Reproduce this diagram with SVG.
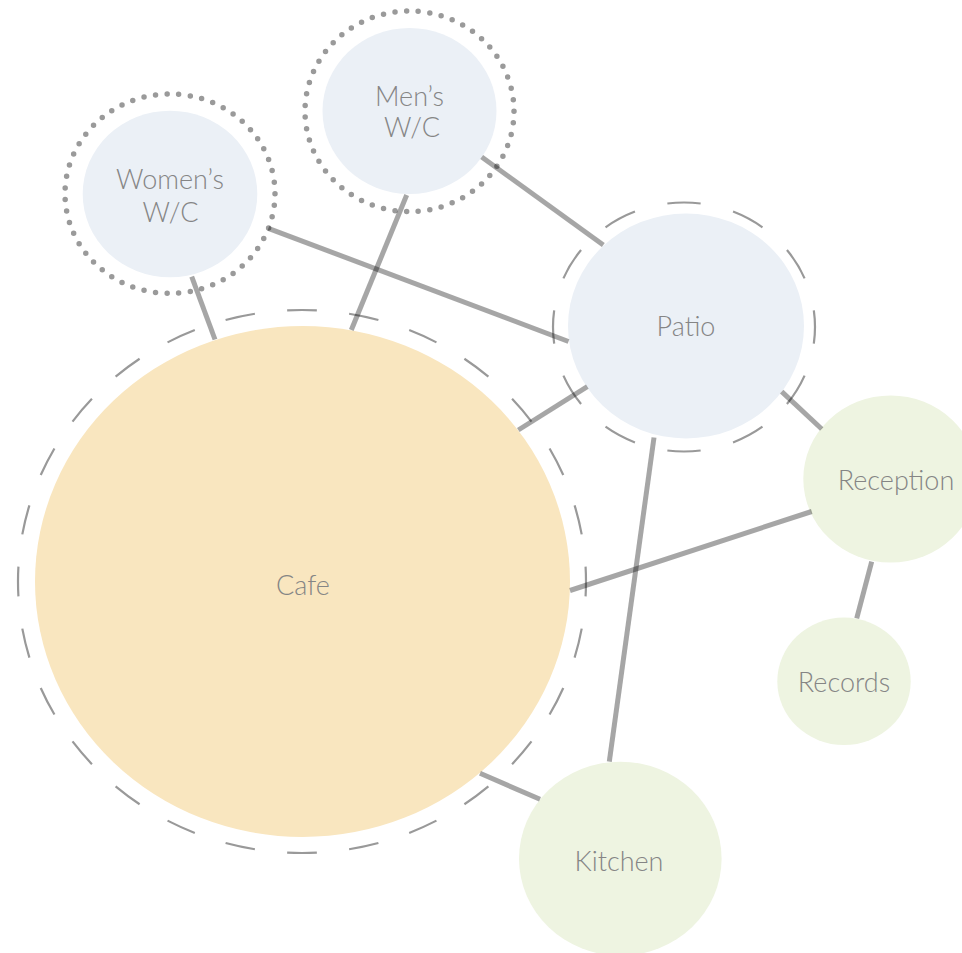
<svg xmlns="http://www.w3.org/2000/svg" width="962" height="953" viewBox="0 0 962 953">
  <style>
    .dash { fill: none; stroke: #999999; stroke-width: 2.2; }
    .dot { fill: none; stroke: #9a9a9a; stroke-width: 5.5; stroke-linecap: round; stroke-dasharray: 0 1; }
    .blue { fill: #ebf0f6; }
    .green { fill: #eef4e1; }
    .cafe { fill: #f9e6bf; }
    .link { stroke: #000000; stroke-opacity: 0.35; stroke-width: 5; fill: none; }
    .label { font-family: "Lato Light", "Lato Hairline", Lato, "Open Sans", "Liberation Sans", sans-serif; font-weight: 300; font-size: 27px; fill: #858585; text-anchor: middle; }
  </style>
  <rect width="962" height="953" fill="#ffffff"/>

  <g id="cafe">
    <ellipse class="dash" cx="302" cy="581.5" rx="284" ry="271.5" pathLength="28" stroke-dasharray="0.48 0.52" stroke-dashoffset="0.24"/>
    <ellipse class="cafe" cx="302.5" cy="581.5" rx="267.5" ry="255.5"/>
    <text class="label" x="303" y="595">Cafe</text>
  </g>

  <g id="patio">
    <ellipse class="dash" cx="684" cy="327" rx="131" ry="124.5" pathLength="12" stroke-dasharray="0.5 0.5" stroke-dashoffset="0.25"/>
    <ellipse class="blue" cx="686" cy="326" rx="118" ry="112.5"/>
    <text class="label" x="686" y="336">Patio</text>
  </g>

  <g id="womens-wc">
    <ellipse class="dot" cx="170" cy="193.7" rx="105" ry="99.7" pathLength="55"/>
    <ellipse class="blue" cx="170" cy="194" rx="87.3" ry="83.3"/>
    <text class="label" x="170" y="189.3">Women’s</text>
    <text class="label" x="170.5" y="221.7">W/C</text>
  </g>

  <g id="mens-wc">
    <ellipse class="dot" cx="409.5" cy="111.3" rx="104.5" ry="100.3" pathLength="55"/>
    <ellipse class="blue" cx="409.5" cy="111" rx="87" ry="83"/>
    <text class="label" x="409.5" y="106">Men’s</text>
    <text class="label" x="412" y="136.7">W/C</text>
  </g>

  <g id="reception">
    <ellipse class="green" cx="890.6" cy="479" rx="87.3" ry="83.5"/>
    <text class="label" x="896" y="490">Reception</text>
  </g>

  <g id="records">
    <ellipse class="green" cx="844" cy="681.3" rx="66.7" ry="63.7"/>
    <text class="label" x="844" y="691.7">Records</text>
  </g>

  <g id="kitchen">
    <ellipse class="green" cx="620.3" cy="858.7" rx="101.3" ry="97"/>
    <text class="label" x="619" y="870.7">Kitchen</text>
  </g>

  <g id="connectors">
    <line class="link" x1="191.7" y1="276.7" x2="215" y2="339.5"/>
    <line class="link" x1="406.7" y1="195" x2="351.3" y2="330"/>
    <line class="link" x1="481.7" y1="157" x2="603.3" y2="245"/>
    <line class="link" x1="268.3" y1="228.3" x2="568.5" y2="341.5"/>
    <line class="link" x1="518.3" y1="430" x2="587.3" y2="386.7"/>
    <line class="link" x1="654" y1="437.5" x2="609.3" y2="761.7"/>
    <line class="link" x1="781.7" y1="391.7" x2="821.7" y2="429"/>
    <line class="link" x1="570" y1="590.5" x2="811.7" y2="511.5"/>
    <line class="link" x1="871.7" y1="561.7" x2="856.7" y2="618.3"/>
    <line class="link" x1="480" y1="773.3" x2="540" y2="799.3"/>
  </g>
</svg>
